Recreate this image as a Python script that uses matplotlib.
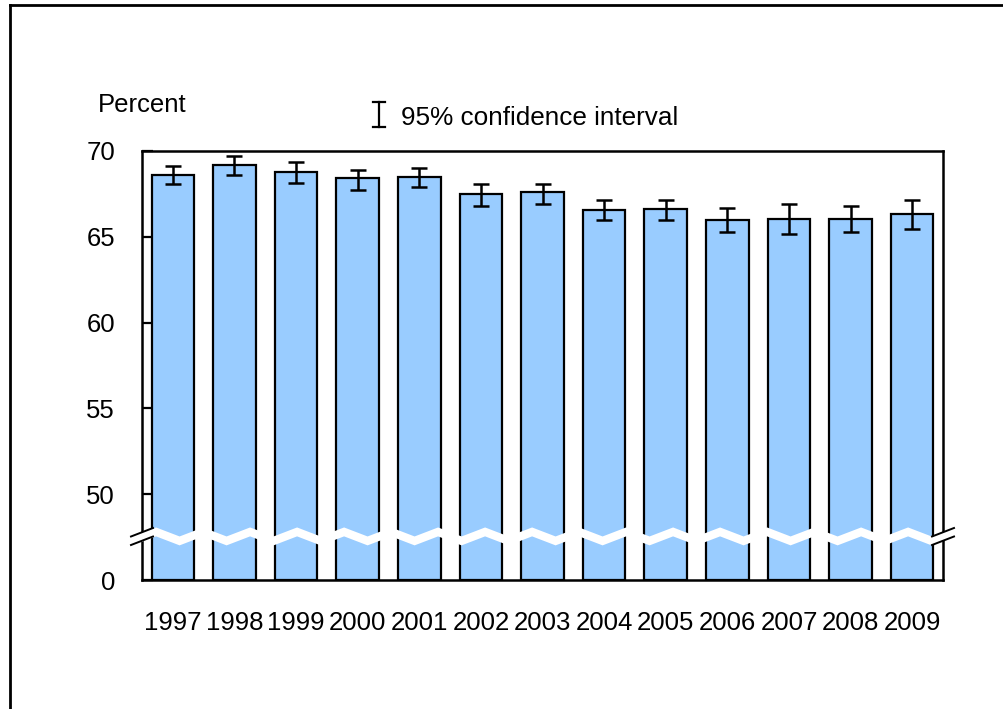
import matplotlib
matplotlib.use("Agg")
import matplotlib.pyplot as plt
from matplotlib.lines import Line2D
from matplotlib.patches import Polygon
import numpy as np

plt.rcParams['font.family'] = ['Liberation Sans', 'DejaVu Sans']

years = ['1997', '1998', '1999', '2000', '2001', '2002', '2003',
         '2004', '2005', '2006', '2007', '2008', '2009']
values = [68.6, 69.2, 68.75, 68.4, 68.5, 67.5, 67.6, 66.55, 66.6, 65.95, 66.05, 66.05, 66.3]
ci_low = [68.05, 68.62, 68.15, 67.70, 67.91, 66.77, 66.89, 65.95, 65.95, 65.27, 65.15, 65.27, 65.48]
ci_high = [69.11, 69.69, 69.34, 68.87, 69.01, 68.07, 68.07, 67.14, 67.14, 66.65, 66.90, 66.79, 67.12]
ytick_pos = [45, 50, 55, 60, 65, 70]
ytick_labels = ['0', '50', '55', '60', '65', '70']

FS = 18.5
W, H = 1004, 709
fig = plt.figure(figsize=(W / 100, H / 100), dpi=100)
L, R, T, B = 142, 943, 151, 580
ax = fig.add_axes([L / W, 1 - B / H, (R - L) / W, (B - T) / H])

x = np.arange(len(years))
base = 45
ax.bar(x, np.array(values) - base, bottom=base, width=0.69, color='#99CCFF',
       edgecolor='black', linewidth=1.6, zorder=2)
yerr = [np.array(values) - np.array(ci_low), np.array(ci_high) - np.array(values)]
ax.errorbar(x, values, yerr=yerr, fmt='none', ecolor='black', elinewidth=1.8,
            capsize=6, capthick=1.8, zorder=3)

ax.set_xlim(-0.5, len(years) - 0.5)
ax.set_ylim(base, 70)
ax.set_yticks(ytick_pos)
ax.set_yticklabels(ytick_labels, fontsize=FS)
ax.set_xticks(x)
ax.set_xticklabels(years, fontsize=FS)
ax.tick_params(axis='y', direction='in', length=8, width=1.6, pad=19.5)
ax.tick_params(axis='x', length=0, pad=22)
for s in ax.spines.values():
    s.set_linewidth(1.8)
    s.set_color('black')

# axis break wave across bars (white zigzag)
px_per_unit = (B - T) / (70 - base)
brk = 47.54
amp = 4.5 / px_per_unit
period_px = 47.0
pts_x, pts_y = [], []
k = -1.0
while True:
    for frac, sign in ((0.3, 1), (0.8, -1)):
        xp = L + period_px * (k + frac)
        pts_x.append((xp - L) / ((R - L) / len(years)) - 0.5)
        pts_y.append(brk + sign * amp)
    k += 1
    if L + period_px * k > R + period_px:
        break
ax.plot(pts_x, pts_y, color='white', linewidth=6, zorder=4, solid_joinstyle='miter')

# break marks on the spines (pixel coords)
def fig_xy(px, py):
    return px / W, 1 - py / H

for cx in (L, R):
    up = [(cx - 11, 536.5), (cx + 11, 528)]
    lo = [(cx - 11, 545), (cx + 11, 536.5)]
    poly = Polygon([fig_xy(*up[0]), fig_xy(*up[1]), fig_xy(*lo[1]), fig_xy(*lo[0])],
                   closed=True, facecolor='white', edgecolor='none',
                   transform=fig.transFigure, zorder=10)
    fig.add_artist(poly)
    for seg in (up, lo):
        (x0, y0), (x1, y1) = fig_xy(*seg[0]), fig_xy(*seg[1])
        fig.add_artist(Line2D([x0, x1], [y0, y1], color='black', linewidth=1.4,
                              transform=fig.transFigure, zorder=11))

# outer frame (left and top edges visible)
fig.add_artist(Line2D([10 / W, 10 / W], [0, 1 - 5 / H], color='black', linewidth=2,
                      transform=fig.transFigure))
fig.add_artist(Line2D([10 / W, 1], [1 - 5 / H, 1 - 5 / H], color='black', linewidth=2,
                      transform=fig.transFigure))

# y-axis title
fig.text(98 / W, 1 - 111.5 / H, 'Percent', fontsize=FS, ha='left', va='baseline')

# legend: CI symbol + text
lx = 379
for seg in (([lx, lx], [102, 127]), ([lx - 6, lx + 6], [102, 102]), ([lx - 6, lx + 6], [127, 127])):
    fig.add_artist(Line2D([v / W for v in seg[0]], [1 - v / H for v in seg[1]],
                          color='black', linewidth=1.6, transform=fig.transFigure))
fig.text(401.5 / W, 1 - 125 / H, '95% confidence interval', fontsize=18.8,
         ha='left', va='baseline')

fig.savefig('out.png', dpi=100)
